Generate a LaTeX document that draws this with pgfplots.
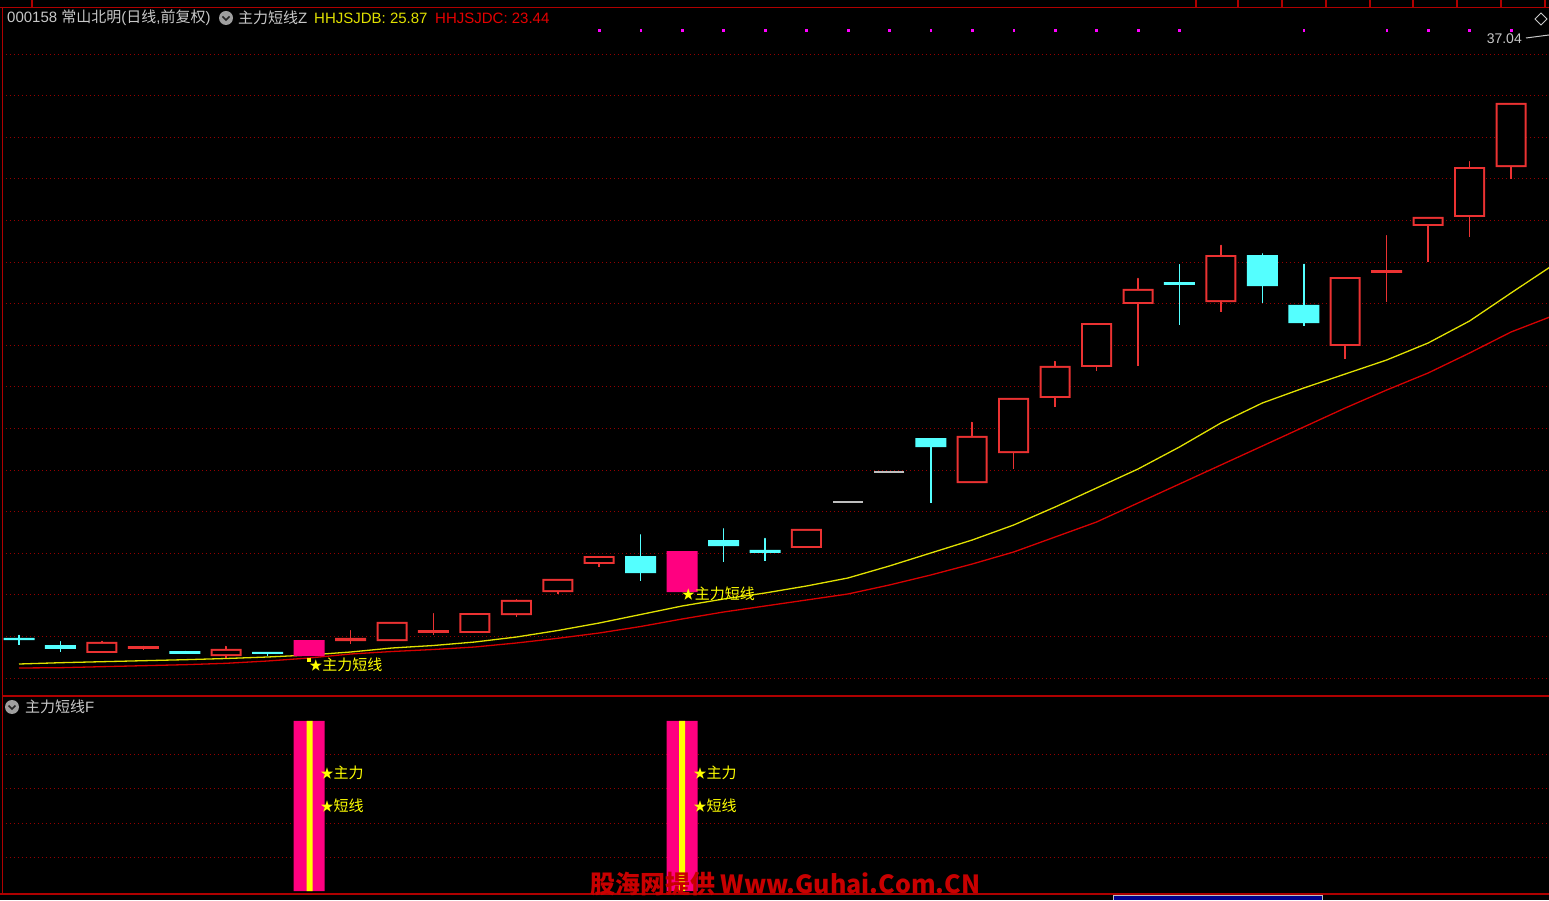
\documentclass[border=0pt]{standalone}
\usepackage{pgfplots}
\pgfplotsset{compat=1.18}
\usepackage{pgfplotstable}
\usepackage{fontspec}
\setmainfont{Liberation Sans}
\newfontfamily\cjk{Noto Sans CJK SC}
\definecolor{upred}{RGB}{235,50,50}
\definecolor{dncyan}{RGB}{84,255,255}
\definecolor{sigpink}{RGB}{255,0,128}
\definecolor{gridred}{RGB}{150,0,0}
\definecolor{framered}{RGB}{175,0,0}
\definecolor{mayellow}{RGB}{225,225,0}
\definecolor{mared}{RGB}{215,0,0}
\definecolor{txtgray}{RGB}{200,200,200}
\definecolor{flatgray}{RGB}{190,190,190}
\definecolor{dotmag}{RGB}{255,0,255}
\definecolor{lblyellow}{RGB}{255,255,0}
\definecolor{wmred}{RGB}{200,0,0}
\definecolor{boxblue}{RGB}{0,0,140}

% candles: x open high low close type (1 up hollow, 2 up thin, 3 down, 4 signal, 5 flat)
\pgfplotstableread{
x o h l c t
0 8.04 8.28 7.70 7.94 3
1 7.70 7.99 7.37 7.51 3
2 7.32 7.99 7.32 7.85 1
3 7.51 7.77 7.46 7.65 2
4 7.41 7.51 7.27 7.27 3
5 7.17 7.75 7.10 7.51 1
6 7.37 7.41 7.17 7.27 3
7 7.17 7.94 7.17 7.94 4
8 7.89 8.52 7.75 8.04 2
9 7.89 8.81 7.89 8.81 1
10 8.28 9.34 8.18 8.42 2
11 8.28 9.24 8.28 9.24 1
12 9.14 10.01 9.05 9.87 1
13 10.25 10.88 10.15 10.88 1
14 11.60 11.98 11.45 11.98 1
15 11.98 13.13 10.78 11.16 3
16 10.25 12.22 10.25 12.22 4
17 12.75 13.42 11.69 12.46 3
18 12.27 12.94 11.74 12.13 3
19 12.37 13.28 12.37 13.28 1
20 14.58 14.58 14.58 14.58 5
21 16.03 16.03 16.03 16.03 5
22 17.65 17.65 14.53 17.22 3
23 15.49 18.52 15.49 17.75 1
24 16.93 19.58 16.16 19.58 1
25 19.58 21.45 19.14 21.12 1
26 21.07 23.18 20.88 23.18 1
27 24.10 25.44 21.12 24.82 1
28 25.15 26.12 23.09 25.01 3
29 24.19 27.03 23.71 26.45 1
30 26.45 26.64 24.14 24.96 3
31 24.05 26.12 23.04 23.18 3
32 22.08 25.39 21.45 25.39 1
33 25.59 27.51 24.19 25.73 2
34 27.85 28.28 26.12 28.28 1
35 28.28 31.07 27.32 30.68 1
36 30.68 33.76 30.11 33.76 1
}\ohlc
\pgfplotstableread{
x ma1 ma2
0 6.788 6.596
1 6.851 6.611
2 6.899 6.659
3 6.947 6.707
4 6.995 6.755
5 7.053 6.822
6 7.125 6.933
7 7.221 7.077
8 7.365 7.269
9 7.558 7.389
10 7.678 7.486
11 7.846 7.606
12 8.086 7.798
13 8.399 8.024
14 8.759 8.279
15 9.168 8.591
16 9.577 8.952
17 9.913 9.288
18 10.202 9.577
19 10.538 9.865
20 10.923 10.154
21 11.500 10.586
22 12.125 11.067
23 12.750 11.596
24 13.471 12.173
25 14.337 12.894
26 15.250 13.615
27 16.163 14.529
28 17.221 15.442
29 18.375 16.356
30 19.337 17.269
31 20.058 18.183
32 20.731 19.096
33 21.404 19.961
34 22.221 20.779
35 23.279 21.740
36 24.625 22.750
37 25.950 23.520
}\ma

\pgfplotsset{
 chartbase/.style={scale only axis, width=1547pt, xmin=-0.4102, xmax=36.917,
   anchor=south west, axis line style={draw=none}, tick style={draw=none},
   xtick=\empty, yticklabels={},
   grid style={gridred, line width=1pt, dash pattern=on 1pt off 3pt}},
 toppanel/.style={chartbase, at={(2pt,204pt)}, height=688pt, ymin=5.25, ymax=38.327},
 wick/.style={only marks, mark=none, forget plot,
   error bars/y dir=minus, error bars/y explicit, error bars/error mark=none,
   error bars/error bar style={draw=#1, line width=1.6pt}},
}

\begin{document}
\begin{tikzpicture}[x=1pt,y=1pt, every node/.style={font=\fontsize{15}{18}\selectfont}]
\path[use as bounding box] (0,0) rectangle (1549,900);
\fill[black] (0,0) rectangle (1549,900);

% ---------------- top panel: grid, lines, wicks ----------------
\begin{axis}[toppanel, ymajorgrids, ytick={6.115,8.115,...,36.2}]
 \addplot[mared, line width=1.3pt, mark=none] table[x=x,y=ma2]{\ma};
 \addplot[mayellow, line width=1.3pt, mark=none] table[x=x,y=ma1]{\ma};
 \addplot[wick=upred] table[x=x, y expr={(\thisrow{t}<3) ? \thisrow{h} : nan}, y error minus expr={\thisrow{h}-\thisrow{l}}]{\ohlc};
 \addplot[wick=dncyan] table[x=x, y expr={(\thisrow{t}==3) ? \thisrow{h} : nan}, y error minus expr={\thisrow{h}-\thisrow{l}}]{\ohlc};
\end{axis}

% ---------------- top panel: candle bodies (stacked) ----------------
\begin{axis}[toppanel, ytick=\empty, ybar stacked, bar width=31pt]
 \addplot[fill=none, draw=none] table[x=x, y expr={min(\thisrow{o},\thisrow{c})}]{\ohlc};
 \addplot[fill=upred, draw=none] table[x=x, y expr={(\thisrow{t}<3) ? abs(\thisrow{o}-\thisrow{c}) : 0}]{\ohlc};
 \addplot[fill=dncyan, draw=none] table[x=x, y expr={(\thisrow{t}==3) ? abs(\thisrow{o}-\thisrow{c}) : 0}]{\ohlc};
 \addplot[fill=sigpink, draw=none] table[x=x, y expr={(\thisrow{t}==4) ? abs(\thisrow{o}-\thisrow{c}) : 0}]{\ohlc};
\end{axis}

% ---------------- top panel: hollow interiors ----------------
\begin{axis}[toppanel, ytick=\empty, ybar stacked, bar width=27pt]
 \addplot[fill=none, draw=none] table[x=x, y expr={min(\thisrow{o},\thisrow{c})+0.096}]{\ohlc};
 \addplot[fill=black, draw=none] table[x=x, y expr={(\thisrow{t}==1) ? abs(\thisrow{o}-\thisrow{c})-0.192 : 0}]{\ohlc};
\end{axis}

% ---------------- top panel: flats, dots, labels ----------------
\begin{axis}[toppanel, ytick=\empty]
 \addplot[only marks, mark=-, mark size=15pt, mark options={line width=2pt, draw=flatgray}]
   table[x=x, y expr={(\thisrow{t}==5) ? \thisrow{c} : nan}]{\ohlc};
 \addplot[only marks, mark=square*, mark size=1.5pt, mark options={draw=lblyellow, fill=lblyellow}]
   coordinates {(7.0,6.98)};
 \addplot[only marks, mark=square*, mark size=1.9pt, mark options={draw=none, fill=dotmag}]
   coordinates {(14,37.27)(15,37.27)(16,37.27)(17,37.27)(18,37.27)(19,37.27)(20,37.27)(21,37.27)(22,37.27)(23,37.27)(24,37.27)(25,37.27)(26,37.27)(27,37.27)(28,37.27)(31,37.27)(33,37.27)(34,37.27)(35,37.27)(36,37.27)};
 \node[anchor=west, inner sep=0, text=lblyellow] at (axis cs:7.0,6.74) {{\cjk\fontsize{13}{13}\selectfont ★}{\cjk 主力短线}};
 \node[anchor=west, inner sep=0, text=lblyellow] at (axis cs:15.99,10.154) {{\cjk\fontsize{13}{13}\selectfont ★}{\cjk 主力短线}};
\end{axis}

% ---------------- bottom panel ----------------
\begin{axis}[chartbase, at={(2pt,7pt)}, height=197pt,
  ymin=-0.0588, ymax=5.735, ymajorgrids, ytick={1,2,3,4}]
 \addplot[ybar, bar width=31pt, bar shift=0pt, fill=sigpink, draw=none] coordinates {(7,5) (16,5)};
 \addplot[ybar, bar width=6pt, bar shift=0pt, fill=lblyellow, draw=none] coordinates {(7.015,5) (16,5)};
 \node[anchor=west, inner sep=0, text=lblyellow] at (axis cs:7.27,3.47) {{\cjk\fontsize{13}{13}\selectfont ★}{\cjk 主力}};
 \node[anchor=west, inner sep=0, text=lblyellow] at (axis cs:7.27,2.50) {{\cjk\fontsize{13}{13}\selectfont ★}{\cjk 短线}};
 \node[anchor=west, inner sep=0, text=lblyellow] at (axis cs:16.27,3.47) {{\cjk\fontsize{13}{13}\selectfont ★}{\cjk 主力}};
 \node[anchor=west, inner sep=0, text=lblyellow] at (axis cs:16.27,2.50) {{\cjk\fontsize{13}{13}\selectfont ★}{\cjk 短线}};
\end{axis}

% ---------------- frame ----------------
\draw[framered, line width=1.5pt] (2.5,6) -- (2.5,893);
\draw[framered, line width=1.5pt] (0,892.5) -- (1549,892.5);
\draw[framered, line width=1.5pt] (2,204) -- (1549,204);
\draw[framered, line width=1.5pt] (0,6) -- (1549,6);
\foreach \xx in {32,1196,1238,1282,1326,1370,1413,1457,1501,1545}
  \draw[framered, line width=1.5pt] (\xx,893) -- (\xx,900);
\fill[boxblue] (1113,0) rectangle (1322,5);
\draw[flatgray, line width=0.8pt] (1113,0) -- (1113,5) -- (1322,5) -- (1322,0);

% ---------------- header ----------------
\node[anchor=west, inner sep=0, text=txtgray] at (7,882) {000158 {\cjk 常山北明}({\cjk 日线},{\cjk 前复权})};
\fill[gray!75] (226,882) circle (7);
\draw[black!85, line width=1.6pt] (222.5,883.5) -- (226,880) -- (229.5,883.5);
\node[anchor=west, inner sep=0, text=txtgray] at (238,882) {{\cjk 主力短线}Z};
\node[anchor=west, inner sep=0, text=mayellow] at (314,882) {HHJSJDB: 25.87};
\node[anchor=west, inner sep=0, text=red!90!black] at (435,882) {HHJSJDC: 23.44};

\node[anchor=east, inner sep=0, text=txtgray, font=\fontsize{14}{16}\selectfont] at (1522,861) {37.04};
\draw[txtgray, line width=1pt] (1526,862) -- (1549,865);
\draw[txtgray, line width=0.8pt] (1535,881) -- (1541,887) -- (1547,881) -- (1541,875) -- cycle;

\fill[gray!75] (12,193) circle (7);
\draw[black!85, line width=1.6pt] (8.5,194.5) -- (12,191) -- (15.5,194.5);
\node[anchor=west, inner sep=0, text=txtgray] at (25,193) {{\cjk 主力短线}F};

% watermark
\node[anchor=west, inner sep=0, text=wmred, font=\fontsize{25}{27}\selectfont] at (590,16) {\cjk\bfseries 股海网提供 Www.Guhai.Com.CN};
\end{tikzpicture}
\end{document}
